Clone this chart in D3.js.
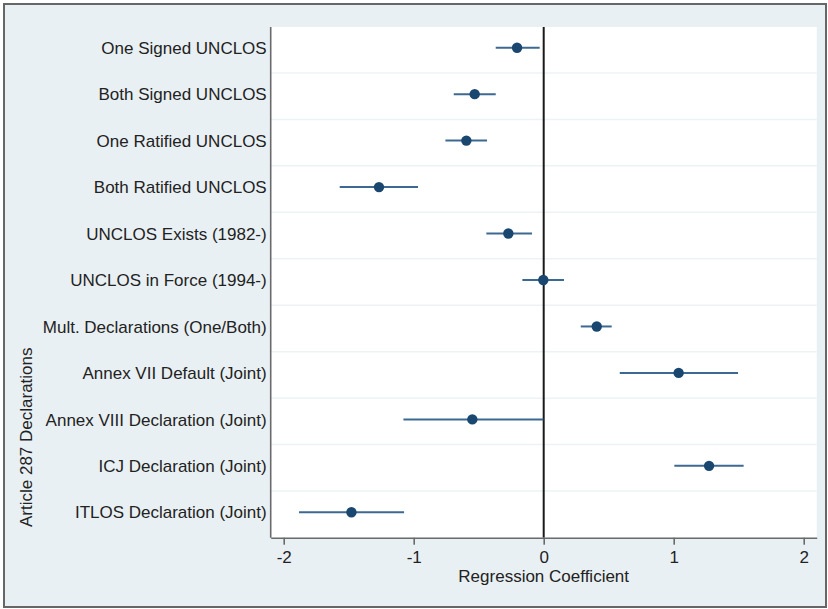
<!DOCTYPE html>
<html>
<head>
<meta charset="utf-8">
<script src="https://cdn.jsdelivr.net/npm/d3@7"></script>
<style>
  body { margin: 0; background: #fff; }
  text { font-family: "Liberation Sans", Arial, sans-serif; fill: #222; }
</style>
</head>
<body>
<svg id="chart" width="828" height="609"></svg>
<script>
// coefficient estimates with confidence intervals, top to bottom
let categories = [
    "One Signed UNCLOS",
    "Both Signed UNCLOS",
    "One Ratified UNCLOS",
    "Both Ratified UNCLOS",
    "UNCLOS Exists (1982-)",
    "UNCLOS in Force (1994-)",
    "Mult. Declarations (One/Both)",
    "Annex VII Default (Joint)",
    "Annex VIII Declaration (Joint)",
    "ICJ Declaration (Joint)",
    "ITLOS Declaration (Joint)"
];
let coef  = [-0.205, -0.531, -0.595, -1.267, -0.272, -0.003, 0.408, 1.038, -0.549, 1.272, -1.479];
let ciLow = [-0.369, -0.692, -0.756, -1.569, -0.441, -0.164, 0.285, 0.585, -1.079, 1.005, -1.882];
let ciHigh = [-0.031, -0.369, -0.436, -0.967, -0.090, 0.156, 0.523, 1.495, -0.003, 1.538, -1.074];
let xTicks = [-2, -1, 0, 1, 2];

let xLabel = "Regression Coefficient",
    yLabel = "Article 287 Declarations";

let data = categories.map((c, i) => ({ name: c, b: coef[i], lo: ciLow[i], hi: ciHigh[i] }));

let _width = 828, _height = 609,
    margin = { top: 27, right: 11.3, bottom: 71.3, left: 270.7 },
    width = _width - margin.left - margin.right,
    height = _height - margin.top - margin.bottom,
    fontSize = '17px';

let root = d3.select('#chart');

// outer background with frame
root.append('rect')
    .attr('x', 4)
    .attr('y', 4)
    .attr('width', 822)
    .attr('height', 603)
    .attr('fill', '#e9f0f3')
    .attr('stroke', '#666')
    .attr('stroke-width', 2);

let svg = root.append('g')
    .attr('transform', 'translate(' + margin.left + ',' + margin.top + ')');

svg.append('rect')
    .attr('width', width)
    .attr('height', height)
    .attr('fill', '#fff');

let xScale = d3.scaleLinear()
    .domain([-2.1, 2.1])
    .range([0, width]);

let yScale = d3.scalePoint()
    .domain(categories)
    .range([20.7, 485.3]);

let step = yScale.step();

// horizontal grid lines between rows
svg.append('g')
    .selectAll('line')
    .data(categories.slice(0, -1))
    .enter()
    .append('line')
    .attr('x1', 0)
    .attr('x2', width)
    .attr('y1', d => yScale(d) + step / 2 + 2)
    .attr('y2', d => yScale(d) + step / 2 + 2)
    .attr('stroke', '#edf3f5')
    .attr('stroke-width', 1.5);

// zero reference line
svg.append('line')
    .attr('x1', xScale(0))
    .attr('x2', xScale(0))
    .attr('y1', 0)
    .attr('y2', height)
    .attr('stroke', '#1a1a1a')
    .attr('stroke-width', 2);

// confidence intervals
svg.append('g')
    .selectAll('line')
    .data(data)
    .enter()
    .append('line')
    .attr('x1', d => xScale(d.lo))
    .attr('x2', d => xScale(d.hi))
    .attr('y1', d => yScale(d.name))
    .attr('y2', d => yScale(d.name))
    .attr('stroke', '#3d6892')
    .attr('stroke-width', 2);

// point estimates
svg.append('g')
    .selectAll('circle')
    .data(data)
    .enter()
    .append('circle')
    .attr('cx', d => xScale(d.b))
    .attr('cy', d => yScale(d.name))
    .attr('r', 5.2)
    .attr('fill', '#1a476f');

// x axis
let xAxis = svg.append('g')
    .attr('transform', 'translate(0,' + height + ')')
    .call(d3.axisBottom(xScale)
        .tickValues(xTicks)
        .tickSize(7)
        .tickPadding(6)
        .tickSizeOuter(0)
        .tickFormat(d3.format('d')));

xAxis.select('.domain')
    .attr('stroke', '#6a6a6a')
    .attr('stroke-width', 1.6);
xAxis.selectAll('.tick line')
    .attr('stroke', '#6a6a6a')
    .attr('stroke-width', 1.6);
xAxis.selectAll('.tick text')
    .style('font-family', '"Liberation Sans", Arial, sans-serif')
    .style('font-size', fontSize)
    .attr('fill', '#222')
    .text(d => d < 0 ? '-' + Math.abs(d) : d);

// y axis line and category labels
svg.append('line')
    .attr('x1', 0)
    .attr('x2', 0)
    .attr('y1', 0)
    .attr('y2', height)
    .attr('stroke', '#6a6a6a')
    .attr('stroke-width', 1.6);

svg.append('g')
    .selectAll('text')
    .data(categories)
    .enter()
    .append('text')
    .attr('x', -4)
    .attr('y', d => yScale(d))
    .attr('dy', '0.36em')
    .attr('text-anchor', 'end')
    .style('font-size', fontSize)
    .text(d => d);

// axis titles
svg.append('text')
    .attr('x', width / 2)
    .attr('y', 555)
    .attr('text-anchor', 'middle')
    .style('font-size', fontSize)
    .text(xLabel);

root.append('text')
    .attr('transform', 'translate(31.5,527) rotate(-90)')
    .attr('text-anchor', 'start')
    .style('font-size', fontSize)
    .text(yLabel);
</script>
</body>
</html>
